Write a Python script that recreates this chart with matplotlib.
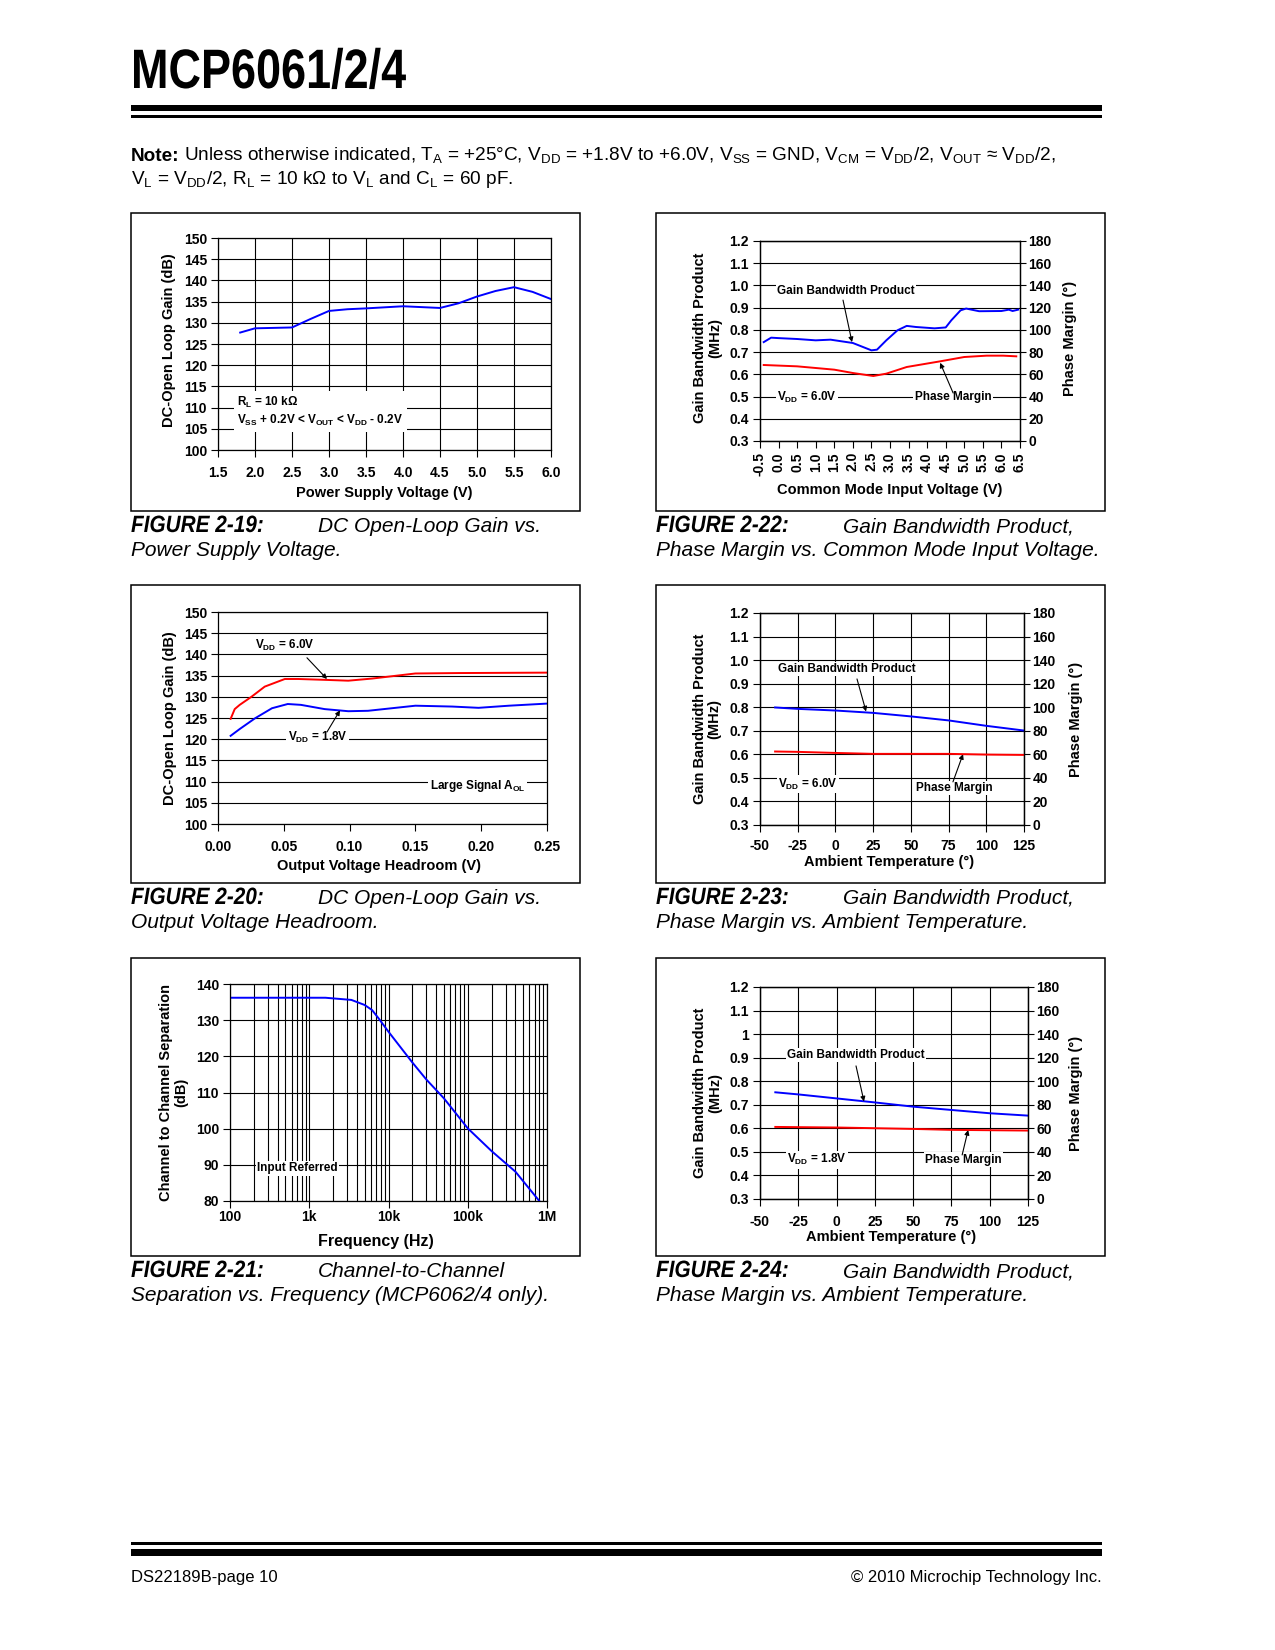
import numpy as np
import matplotlib
matplotlib.use("Agg")
import matplotlib.pyplot as plt
from matplotlib.patches import Rectangle, PathPatch
from matplotlib.textpath import TextPath
from matplotlib.font_manager import FontProperties
from matplotlib.transforms import Affine2D
from matplotlib.ticker import FixedLocator, FuncFormatter, NullFormatter

# ---- values ----
# Figure 2-19: DC open-loop gain vs power supply voltage
supply_v = [1.8, 2.0, 2.25, 2.5, 2.75, 3.0, 3.25, 3.5, 4.0, 4.5, 4.75, 5.0, 5.25, 5.5, 5.75, 6.0]
aol_supply = [127.7, 128.7, 128.8, 128.9, 130.9, 132.8, 133.2, 133.4, 133.9, 133.5, 134.6, 136.2, 137.5, 138.4, 137.3, 135.6]

# Figure 2-20: DC open-loop gain vs output voltage headroom
head_6v = [0.0096, 0.0127, 0.0165, 0.0254, 0.0355, 0.0508, 0.061, 0.081, 0.099, 0.117, 0.150, 0.183, 0.25]
aol_6v = [124.8, 127.1, 128.1, 130.0, 132.4, 134.2, 134.2, 134.0, 133.8, 134.3, 135.5, 135.6, 135.7]
head_18v = [0.0096, 0.0165, 0.028, 0.041, 0.053, 0.063, 0.081, 0.099, 0.114, 0.150, 0.178, 0.198, 0.221, 0.25]
aol_18v = [120.8, 122.4, 124.9, 127.3, 128.3, 128.1, 127.1, 126.6, 126.7, 127.9, 127.7, 127.4, 127.9, 128.4]

# Figure 2-21: channel-to-channel separation vs frequency
freq_hz = [100, 1000, 1600, 3400, 5000, 6200, 7500, 10e3, 20e3, 30e3, 50e3, 100e3, 200e3, 400e3, 800e3]
separation = [136.2, 136.2, 136.2, 135.6, 134.2, 132.8, 130.5, 126.8, 118.3, 113.6, 108.4, 100.1, 93.8, 88.1, 80.0]

# Figure 2-22: GBWP and phase margin vs common mode input voltage
vcm_gbw = [-0.4, -0.2, 0.0, 0.5, 1.0, 1.4, 2.0, 2.5, 2.65, 2.9, 3.2, 3.45, 3.7, 4.2, 4.5, 4.65, 4.9, 5.05, 5.4, 6.0, 6.2, 6.3, 6.45]
gbw_vcm = [0.745, 0.765, 0.763, 0.759, 0.753, 0.756, 0.741, 0.708, 0.711, 0.753, 0.798, 0.818, 0.813, 0.807, 0.811, 0.843, 0.888, 0.896, 0.884, 0.885, 0.891, 0.885, 0.891]
vcm_pm = [-0.4, 0.5, 1.5, 2.0, 2.55, 2.9, 3.45, 4.35, 5.0, 5.6, 6.05, 6.4]
pm_vcm = [68.4, 67.2, 64.2, 61.2, 58.5, 60.6, 66.6, 71.7, 75.6, 76.8, 76.8, 76.2]

# Figures 2-23 / 2-24: GBWP and phase margin vs ambient temperature
temp_c = [-40, -25, 0, 25, 50, 75, 100, 125]
gbw_6v = [0.799, 0.793, 0.786, 0.776, 0.761, 0.744, 0.721, 0.701]
pm_6v = [62.4, 62.1, 61.2, 60.4, 60.4, 60.4, 59.8, 59.5]
gbw_18v = [0.753, 0.744, 0.727, 0.710, 0.692, 0.678, 0.664, 0.654]
pm_18v = [61.2, 61.0, 60.7, 60.1, 59.5, 58.7, 58.4, 58.1]

# tick values / labels
supply_ticks = [1.5, 2.0, 2.5, 3.0, 3.5, 4.0, 4.5, 5.0, 5.5, 6.0]
gain_ticks = list(range(100, 151, 5))
head_ticks = [0.0, 0.05, 0.10, 0.15, 0.20, 0.25]
sep_ticks = list(range(80, 141, 10))
freq_ticks = [100, 1e3, 1e4, 1e5, 1e6]
freq_labels = ["100", "1k", "10k", "100k", "1M"]
vcm_ticks = [-0.5, 0.0, 0.5, 1.0, 1.5, 2.0, 2.5, 3.0, 3.5, 4.0, 4.5, 5.0, 5.5, 6.0, 6.5]
gbw_ticks = [0.3, 0.4, 0.5, 0.6, 0.7, 0.8, 0.9, 1.0, 1.1, 1.2]
pm_ticks = list(range(0, 181, 20))
temp_ticks = [-50, -25, 0, 25, 50, 75, 100, 125]

# ---- fonts ----
plt.rcParams["font.family"] = ["Liberation Sans", "DejaVu Sans"]
plt.rcParams["font.weight"] = "bold"
plt.rcParams["axes.labelweight"] = "bold"
plt.rcParams["axes.unicode_minus"] = False
plt.rcParams["mathtext.fontset"] = "custom"
plt.rcParams["mathtext.rm"] = "Liberation Sans:weight=normal"
plt.rcParams["mathtext.bf"] = "Liberation Sans:bold"

W, H = 1275, 1650
fig = plt.figure(figsize=(W / 100, H / 100), dpi=100)


def px_axes(l, t, r, b):
    return fig.add_axes([l / W, 1 - b / H, (r - l) / W, (b - t) / H])


def box(l, t, r, b, filled=False, lw=1.0):
    fig.add_artist(Rectangle((l / W, 1 - b / H), (r - l) / W, (b - t) / H,
                             transform=fig.transFigure, fill=filled,
                             fc="black", ec="black" if not filled else "none", lw=lw))


def ftext(x, y, s, **kw):
    return fig.text(x / W, 1 - y / H, s, **kw)


def squeezed(x, y, s, size_pt, sx, style="normal"):
    # condensed bold text (the page uses a narrow face)
    fp = FontProperties(family="Liberation Sans", weight="bold", style=style)
    path = TextPath((0, 0), s, size=size_pt * 100 / 72, prop=fp)
    tr = Affine2D().scale(sx, 1).translate(x, H - y)
    fig.add_artist(PathPatch(path, transform=tr, fc="black", ec="none", lw=0))


def style(ax, xpad=3):
    ax.set_axisbelow(True)
    ax.grid(True, color="black", lw=0.8)
    ax.tick_params(direction="out", length=5, width=0.8, labelsize=10, pad=3)
    ax.tick_params(axis="x", pad=xpad)
    ax.tick_params(which="minor", length=0)
    for s in ax.spines.values():
        s.set_linewidth(0.9)


def label(ax, s, x, y, boxed=True):
    ax.text(x, y, s, fontsize=8.5, fontweight="bold", ha="left", va="center", zorder=6,
            bbox=dict(fc="white", ec="none", pad=1.0) if boxed else None)


def arrow(ax, tail, head):
    ax.annotate("", xy=head, xytext=tail, zorder=7,
                arrowprops=dict(arrowstyle="-|>", color="black", lw=0.8,
                                mutation_scale=7, shrinkA=0, shrinkB=0))


def fmt(d):
    return FuncFormatter(lambda v, p: f"{v:.{d}f}")


BLUE, RED = "#0000ff", "#ff0000"

# ---- page header ----
squeezed(131, 88, "MCP6061/2/4", 40, 0.81)
box(131, 105, 1102, 111, filled=True)
box(131, 115, 1102, 117.5, filled=True)

r = fig.canvas.get_renderer()
t = ftext(131, 161, "Note:", fontsize=13.7, fontweight="bold", va="baseline")
x_after = t.get_window_extent(r).x1 + 4
ftext(x_after, 161,
      r"Unless otherwise indicated, T$_\mathrm{A}$ = +25°C, V$_\mathrm{DD}$ = +1.8V to +6.0V, "
      r"V$_\mathrm{SS}$ = GND, V$_\mathrm{CM}$ = V$_\mathrm{DD}$/2, V$_\mathrm{OUT}$ ≈ V$_\mathrm{DD}$/2,",
      fontsize=13.7, fontweight="normal", va="baseline")
ftext(131, 184,
      r"V$_\mathrm{L}$ = V$_\mathrm{DD}$/2, R$_\mathrm{L}$ = 10 kΩ to V$_\mathrm{L}$ and C$_\mathrm{L}$ = 60 pF.",
      fontsize=13.7, fontweight="normal", va="baseline")

# ---- frames and captions ----
LX, RX, FW = 131, 656, 449
tops = [213, 585, 958]
FH = 298
captions = [
    ("FIGURE 2-19:", "DC Open-Loop Gain vs.", "Power Supply Voltage."),
    ("FIGURE 2-20:", "DC Open-Loop Gain vs.", "Output Voltage Headroom."),
    ("FIGURE 2-21:", "Channel-to-Channel", "Separation vs. Frequency (MCP6062/4 only)."),
    ("FIGURE 2-22:", "Gain Bandwidth Product,", "Phase Margin vs. Common Mode Input Voltage."),
    ("FIGURE 2-23:", "Gain Bandwidth Product,", "Phase Margin vs. Ambient Temperature."),
    ("FIGURE 2-24:", "Gain Bandwidth Product,", "Phase Margin vs. Ambient Temperature."),
]
for i, (fig_no, line1, line2) in enumerate(captions):
    x0 = LX if i < 3 else RX
    top = tops[i % 3]
    bot = top + FH
    box(x0, top, x0 + FW, bot, lw=1.1)
    squeezed(x0, bot + 21, fig_no, 17, 0.88, style="italic")
    ftext(x0 + 187, bot + 21, line1, fontsize=15, fontweight="normal", style="italic", va="baseline")
    ftext(x0, bot + 45, line2, fontsize=15, fontweight="normal", style="italic", va="baseline")

# ---- Figure 2-19 ----
ax = px_axes(218, 238, 551, 450)
style(ax, xpad=6.5)
ax.plot(supply_v, aol_supply, color=BLUE, lw=1.4)
ax.set_xlim(1.5, 6.0)
ax.set_ylim(100, 150)
ax.xaxis.set_major_locator(FixedLocator(supply_ticks))
ax.xaxis.set_major_formatter(fmt(1))
ax.yaxis.set_major_locator(FixedLocator(gain_ticks))
ax.set_xlabel("Power Supply Voltage (V)", fontsize=10.5)
ax.set_ylabel("DC-Open Loop Gain (dB)", fontsize=10.5)
ax.xaxis.set_label_coords(0.5, -0.17)
ax.yaxis.set_label_coords(-0.125, 0.52)
ax.text(1.76, 109.1,
        "R$_\\mathbf{L}$ = 10 kΩ\nV$_\\mathbf{SS}$ + 0.2V < V$_\\mathbf{OUT}$ < V$_\\mathbf{DD}$ - 0.2V",
        fontsize=8.5, fontweight="bold", ha="left", va="center", zorder=6, linespacing=1.3,
        bbox=dict(fc="white", ec="none", pad=2.5))

# ---- Figure 2-20 ----
ax = px_axes(218, 612, 547, 824)
style(ax, xpad=6.5)
ax.plot(head_6v, aol_6v, color=RED, lw=1.4)
ax.plot(head_18v, aol_18v, color=BLUE, lw=1.4)
ax.set_xlim(0, 0.25)
ax.set_ylim(100, 150)
ax.xaxis.set_major_locator(FixedLocator(head_ticks))
ax.xaxis.set_major_formatter(fmt(2))
ax.xaxis.set_minor_locator(FixedLocator([0.1, 0.2]))
ax.grid(False, axis="x", which="major")
ax.grid(True, axis="x", which="minor", color="black", lw=0.8)
ax.yaxis.set_major_locator(FixedLocator(gain_ticks))
ax.set_xlabel("Output Voltage Headroom (V)", fontsize=10.5)
ax.set_ylabel("DC-Open Loop Gain (dB)", fontsize=10.5)
ax.xaxis.set_label_coords(0.49, -0.165)
ax.yaxis.set_label_coords(-0.126, 0.5)
label(ax, "V$_\\mathbf{DD}$ = 6.0V", 0.028, 142.2, boxed=False)
arrow(ax, (0.0676, 139.2), (0.0828, 134.2))
label(ax, "V$_\\mathbf{DD}$ = 1.8V", 0.053, 120.3)
arrow(ax, (0.0828, 121.7), (0.0927, 126.8))
label(ax, "Large Signal A$_\\mathbf{OL}$", 0.161, 109.0)

# ---- Figure 2-21 ----
ax = px_axes(230, 984, 547, 1201)
style(ax, xpad=1.5)
ax.set_xscale("log")
ax.plot(freq_hz, separation, color=BLUE, lw=1.4)
ax.set_xlim(100, 1e6)
ax.set_ylim(80, 140)
ax.xaxis.set_major_locator(FixedLocator(freq_ticks))
ax.set_xticklabels(freq_labels)
ax.xaxis.set_minor_formatter(NullFormatter())
ax.grid(True, axis="x", which="minor", color="black", lw=0.8)
ax.yaxis.set_major_locator(FixedLocator(sep_ticks))
ax.set_xlabel("Frequency (Hz)", fontsize=11.5)
ax.set_ylabel("Channel to Channel Separation\n(dB)", fontsize=10.5, linespacing=1.1)
ax.xaxis.set_label_coords(0.46, -0.151)
ax.yaxis.set_label_coords(-0.133, 0.5)
label(ax, "Input Referred", 219, 89.1)


# ---- Figures 2-22, 2-23, 2-24 (two y axes) ----
def gbw_axes(l, t, r, b, xpad=3, one_digit_one=False):
    ax = px_axes(l, t, r, b)
    style(ax, xpad=xpad)
    ax.set_ylim(0.3, 1.2)
    ax.yaxis.set_major_locator(FixedLocator(gbw_ticks))
    if one_digit_one:
        ax.yaxis.set_major_formatter(FuncFormatter(lambda v, p: "1" if abs(v - 1) < 1e-9 else f"{v:.1f}"))
    else:
        ax.yaxis.set_major_formatter(fmt(1))
    ax.set_ylabel("Gain Bandwidth Product\n(MHz)", fontsize=10.5, linespacing=1.1)
    ax2 = ax.twinx()
    ax2.set_ylim(0, 180)
    ax2.yaxis.set_major_locator(FixedLocator(pm_ticks))
    ax2.tick_params(direction="out", length=4.5, width=0.8, labelsize=10, pad=1.5)
    ax2.set_ylabel("Phase Margin (°)", fontsize=10.5)
    for s in ax2.spines.values():
        s.set_linewidth(0.9)
    return ax, ax2


ax, ax2 = gbw_axes(760, 241, 1020, 441)
ax.plot(vcm_gbw, gbw_vcm, color=BLUE, lw=1.4)
ax2.plot(vcm_pm, pm_vcm, color=RED, lw=1.4)
ax.set_xlim(-0.5, 6.5)
ax.xaxis.set_major_locator(FixedLocator(vcm_ticks))
ax.xaxis.set_major_formatter(fmt(1))
ax.tick_params(axis="x", labelrotation=90)
ax.xaxis.set_minor_locator(FixedLocator([0.5, 1.5, 2.5, 3.5, 4.5, 5.5]))
ax.grid(False, axis="x", which="major")
ax.grid(True, axis="x", which="minor", color="black", lw=0.8)
ax.set_xlabel("Common Mode Input Voltage (V)", fontsize=10.5)
ax.xaxis.set_label_coords(0.5, -0.21)
ax.yaxis.set_label_coords(-0.144, 0.515)
ax2.yaxis.set_label_coords(1.165, 0.515)
label(ax, "Gain Bandwidth Product", -0.04, 0.975)
arrow(ax, (1.735, 0.934), (1.977, 0.745))
label(ax, "V$_\\mathbf{DD}$ = 6.0V", -0.04, 0.498)
label(ax, "Phase Margin", 3.67, 0.498)
arrow(ax, (4.70, 0.516), (4.35, 0.652))

for (l, t, r, b), gbw, pm, vdd, one, pos in [
        ((760, 613, 1024, 825), gbw_6v, pm_6v, "6.0V", False,
         dict(gbp=(-38.1, 0.962), gtail=(14.3, 0.920), ghead=(20.3, 0.782),
              vdd=(-38.1, 0.474), pmt=(53.4, 0.457), ptail=(77.9, 0.483), phead=(84.6, 0.601),
              xl=-0.141, yl=-0.145, yr=1.17, xpad=5)),
        ((760, 987, 1028, 1199), gbw_18v, pm_18v, "1.8V", True,
         dict(gbp=(-32.4, 0.911), gtail=(12.7, 0.865), ghead=(17.9, 0.714),
              vdd=(-32.4, 0.466), pmt=(57.8, 0.466), ptail=(82.0, 0.487), phead=(85.9, 0.593),
              xl=-0.146, yl=-0.142, yr=1.153, xpad=6.5))]:
    ax, ax2 = gbw_axes(l, t, r, b, xpad=pos["xpad"], one_digit_one=one)
    ax.plot(temp_c, gbw, color=BLUE, lw=1.4)
    ax2.plot(temp_c, pm, color=RED, lw=1.4)
    ax.set_xlim(-50, 125)
    ax.xaxis.set_major_locator(FixedLocator(temp_ticks))
    ax.set_xlabel("Ambient Temperature (°)", fontsize=10.5)
    ax.xaxis.set_label_coords(0.49, pos["xl"])
    ax.yaxis.set_label_coords(pos["yl"], 0.5)
    ax2.yaxis.set_label_coords(pos["yr"], 0.5)
    label(ax, "Gain Bandwidth Product", *pos["gbp"])
    arrow(ax, pos["gtail"], pos["ghead"])
    label(ax, "V$_\\mathbf{DD}$ = " + vdd, *pos["vdd"])
    label(ax, "Phase Margin", *pos["pmt"])
    arrow(ax, pos["ptail"], pos["phead"])

# ---- page footer ----
box(131, 1542, 1102, 1545, filled=True)
box(131, 1549, 1102, 1556, filled=True)
ftext(131, 1582, "DS22189B-page 10", fontsize=12, fontweight="normal", va="baseline")
ftext(1102, 1582, "© 2010 Microchip Technology Inc.", fontsize=12,
      fontweight="normal", va="baseline", ha="right")

fig.savefig("out.png", dpi=100, facecolor="white")
